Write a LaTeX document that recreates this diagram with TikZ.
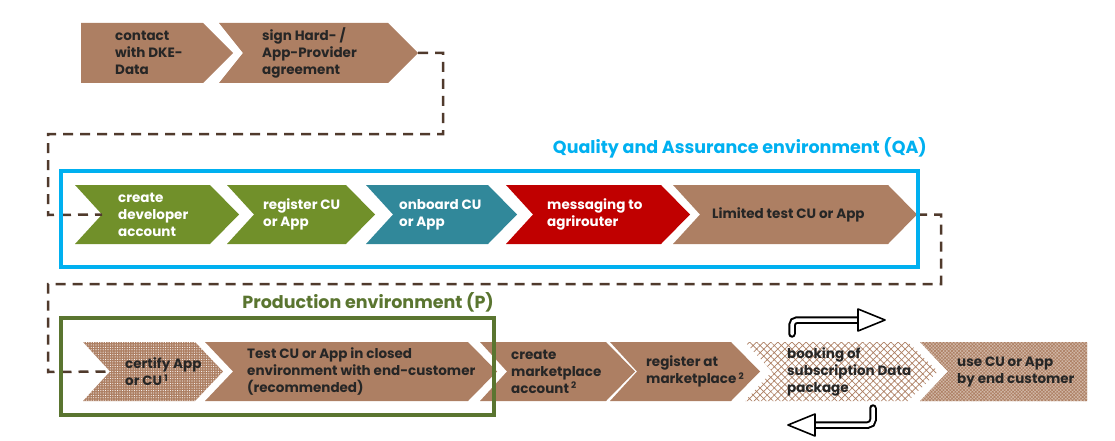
\documentclass[tikz,border=0pt]{standalone}
\usepackage{fontspec}
\setmainfont{Poppins}
\usetikzlibrary{patterns,patterns.meta}
\definecolor{brn}{HTML}{AD7F63}
\definecolor{grn}{HTML}{71902A}
\definecolor{tealc}{HTML}{31889A}
\definecolor{redc}{HTML}{C00000}
\definecolor{cyanbox}{HTML}{00B0F0}
\definecolor{prodgrn}{HTML}{5A7530}
\definecolor{dtext}{HTML}{262626}
\definecolor{dashc}{HTML}{503A2C}
\newcommand\chev[8]{%
  \path[#2] (#3,#5) -- ({#4-#8},#5) -- (#4,{(#5+#6)/2}) -- ({#4-#8},#6) -- (#3,#6) -- ({#3+#7},{(#5+#6)/2}) -- cycle;
  \coordinate (#1-tip) at (#4,{(#5+#6)/2});
  \coordinate (#1-notch) at ({#3+#7},{(#5+#6)/2});
}
\newcommand\supnum[1]{\,\raisebox{0.55ex}{\fontsize{9}{9}\selectfont #1}}
\tikzset{
  chevtxt/.style={anchor=west, align=left, font=\bfseries\fontsize{13.5}{17}\selectfont, text=dtext, inner sep=0pt},
  wtxt/.style={chevtxt, text=white},
  conn/.style={draw=dashc, line width=2.5pt, dash pattern=on 10pt off 7pt},
  dotted fill/.style={fill=brn, postaction={pattern={Dots[distance=2.4pt,radius=0.55pt]}, pattern color=white}},
  hatch fill/.style={fill=white, postaction={pattern={Hatch[angle=45,distance=5pt,line width=0.7pt]}, pattern color=brn}},
  fine fill/.style={fill=brn!55!white, postaction={pattern={Hatch[angle=45,distance=2.4pt,line width=0.6pt]}, pattern color=brn}},
  envlabel/.style={font=\bfseries\fontsize{17.5}{20}\selectfont, inner sep=0pt, anchor=east},
}
\begin{document}
\begin{tikzpicture}[x=1pt,y=-1pt]
\useasboundingbox (0,0) rectangle (1115,441);
% row 1
\chev{contact}{fill=brn}{81}{233}{23}{83}{0}{30}
\chev{sign}{fill=brn}{219}{418}{23}{83}{24}{30}
\node[chevtxt] (tcontact) at (115,53) {contact\\with DKE-\\Data};
\node[chevtxt] (tsign) at (262,53) {sign Hard- /\\App-Provider\\agreement};
% row 2
\chev{dev}{fill=grn}{75}{239}{185}{244}{27}{29}
\chev{reg}{fill=grn}{227}{375}{185}{244}{27}{29}
\chev{onb}{fill=tealc}{366}{517}{185}{244}{27}{29}
\chev{msg}{fill=redc}{506}{690}{185}{244}{27}{29}
\chev{lim}{fill=brn}{673}{917}{185}{244}{27}{29}
\node[wtxt] (tdev) at (118,214.5) {create\\developer\\account};
\node[wtxt] (treg) at (263,214.5) {register CU\\or App};
\node[wtxt] (tonb) at (399,214.5) {onboard CU\\or App};
\node[wtxt] (tmsg) at (547,214.5) {messaging to\\agrirouter};
\node[chevtxt] (tlim) at (712,214.5) {Limited test CU or App};
% row 3
\chev{cert}{dotted fill}{83}{223}{342}{401}{27}{28}
\chev{test}{fill=brn}{205}{497}{342}{401}{28}{29}
\chev{cmk}{fill=brn}{480}{635}{342}{401}{27}{29}
\chev{rmk}{fill=brn}{610}{760}{342}{401}{27}{29}
\chev{book}{hatch fill}{745}{938}{342}{401}{27}{30}
\chev{use}{fine fill}{920}{1087}{342}{401}{28}{0}
\node[chevtxt] (tcert) at (125,371.5) {certify App\\or CU\supnum{1}};
\node[chevtxt] (ttest) at (247,371.5) {Test CU or App in closed\\environment with end-customer\\(recommended)};
\node[chevtxt] (tcmk) at (511,371.5) {create\\marketplace\\account\supnum{2}};
\node[chevtxt] (trmk) at (646,371.5) {register at\\marketplace\supnum{2}};
\node[chevtxt] (tbook) at (787,371.5) {booking of\\subscription Data\\package};
\node[chevtxt] (tuse) at (957,371.5) {use CU or App\\by end customer};
% connectors
\coordinate (c1a) at (443,134);
\coordinate (c1b) at (48,215);
\coordinate (c2a) at (941,284);
\coordinate (c2b) at (48,372);
\draw[conn] (sign-tip) -| (c1a) -| (c1b) -- (dev-notch);
\draw[conn] (lim-tip) -| (c2a) -| (c2b) -- (cert-notch);
% environment boxes
\draw[cyanbox, line width=3.5pt] (61,171) rectangle (918,267);
\node[envlabel, text=cyanbox] (qa) at (927,148) {Quality and Assurance environment (QA)};
\draw[prodgrn, line width=4pt] (61,318) rectangle (494,415);
\node[envlabel, text=prodgrn] (prod) at (494,302) {Production environment (P)};
% bent arrows
\draw[black, line width=7.5pt, line cap=round, rounded corners=5pt] (792,334) -- (792,320) -- (860,320);
\draw[white, line width=3.5pt, line cap=round, rounded corners=5pt] (792,334) -- (792,320) -- (861,320);
\draw[black, fill=white, line width=1.6pt, line join=round] (858,309) -- (885,320) -- (858,331) -- cycle;
\draw[black, line width=7.5pt, line cap=round, rounded corners=5pt] (873,408) -- (873,425) -- (813,425);
\draw[white, line width=3.5pt, line cap=round, rounded corners=5pt] (873,408) -- (873,425) -- (812,425);
\draw[black, fill=white, line width=1.6pt, line join=round] (815,414) -- (788,425) -- (815,436) -- cycle;
\end{tikzpicture}
\end{document}
